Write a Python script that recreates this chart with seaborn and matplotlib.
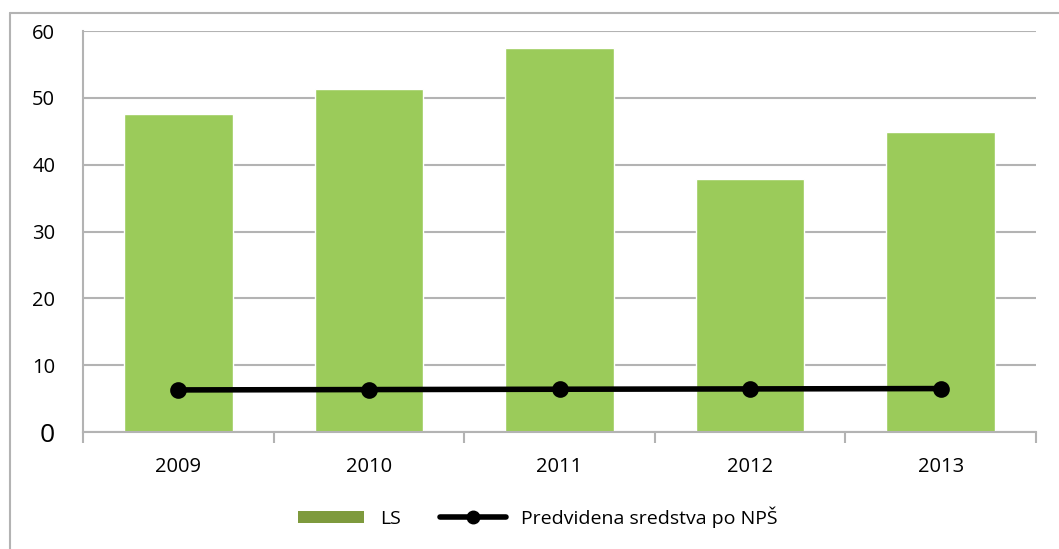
import matplotlib
matplotlib.use("Agg")
import matplotlib.pyplot as plt
from matplotlib.patches import Patch
from matplotlib.lines import Line2D
import seaborn as sns

# podatki
godine = ['2009', '2010', '2011', '2012', '2013']
ls = [47.6, 51.3, 57.5, 37.9, 44.9]
nps = [6.3, 6.35, 6.4, 6.45, 6.5]
yticks = [0, 10, 20, 30, 40, 50, 60]

sns.set_style("white")
plt.rcParams['font.family'] = ['Open Sans', 'DejaVu Sans']
plt.rcParams['text.color'] = 'black'

fig = plt.figure(figsize=(10.59, 5.49), dpi=100)
ax = fig.add_axes([0.0784, 0.2131, 0.8999, 0.7304])

grid_c = '#B3B3B3'
ax.set_axisbelow(True)
ax.yaxis.grid(True, color=grid_c, linewidth=1.5)

sns.barplot(x=godine, y=ls, color='#9BCB5A', saturation=1, width=0.57,
            edgecolor='white', linewidth=1, ax=ax, zorder=2)
sns.pointplot(x=godine, y=nps, color='black', linewidth=4, markersize=9,
              ax=ax, zorder=3)

ax.set_ylim(0, 60)
ax.set_xlim(-0.5, 4.5)
ax.set_yticks(yticks)
ax.set_yticklabels([str(v) for v in yticks])
ax.tick_params(axis='y', length=0, pad=20, labelsize=14.5, labelcolor='black')
ax.tick_params(axis='x', which='major', length=0, pad=18, labelsize=14.5,
               labelcolor='black')
ax.get_yticklabels()[0].set_fontsize(19)
ax.set_xticks([i - 0.5 for i in range(6)], minor=True)
ax.tick_params(axis='x', which='minor', length=8, width=1.5, color=grid_c,
               direction='out', bottom=True)
ax.set_xlabel('')
ax.set_ylabel('')

for s in ['top', 'right']:
    ax.spines[s].set_visible(False)
for s in ['left', 'bottom']:
    ax.spines[s].set_color(grid_c)
    ax.spines[s].set_linewidth(1.5)

handles = [Patch(facecolor='#7E9A3D', edgecolor='none'),
           Line2D([], [], color='black', linewidth=4, marker='o', markersize=9)]
fig.legend(handles, ['LS', 'Predvidena sredstva po NPŠ'], loc='center',
           bbox_to_anchor=(0.508, 0.058), ncol=2, frameon=False, fontsize=14,
           handlelength=3.4, handleheight=0.6, handletextpad=0.8,
           columnspacing=2.0)

# okvir
fig.add_artist(Line2D([10 / 1059, 10 / 1059], [0, 1 - 13 / 549],
                      color=grid_c, linewidth=1.5))
fig.add_artist(Line2D([10 / 1059, 1], [1 - 13 / 549, 1 - 13 / 549],
                      color=grid_c, linewidth=1.5))

fig.savefig('out.png', dpi=100)
